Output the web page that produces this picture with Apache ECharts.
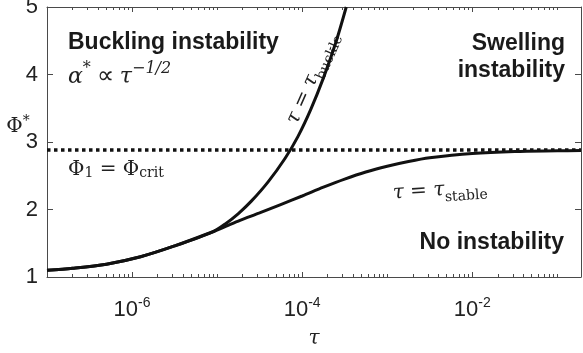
<!DOCTYPE html>
<html>
<head>
<meta charset="utf-8">
<script src="https://cdn.jsdelivr.net/npm/echarts@6/dist/echarts.min.js"></script>
<style>
  html, body { margin: 0; padding: 0; background: #fff; }
  #chart { width: 583px; height: 353px; }
</style>
</head>
<body>
<div id="chart"></div>
<script>
// tau, Phi* off the linear axis
const buckleTau = [1e-7, 2e-7, 5e-7, 1.26e-6, 3.16e-6, 8.9e-6, 1.26e-5, 1.78e-5, 2.51e-5, 3.98e-5, 6.31e-5, 8.91e-5, 1.26e-4, 1.78e-4, 2.51e-4, 3.3e-4];
const buckleVal = [1.10, 1.13, 1.19, 1.30, 1.46, 1.67, 1.79, 1.94, 2.12, 2.41, 2.76, 3.08, 3.48, 3.95, 4.49, 5.00];

const stableTau = [1e-7, 2e-7, 5e-7, 1.26e-6, 3.16e-6, 8.9e-6, 1.26e-5, 1.86e-5, 3.16e-5, 5.5e-5, 1.0e-4, 1.78e-4, 3.16e-4, 5.6e-4, 1.0e-3, 1.78e-3, 3.16e-3, 1.0e-2, 3.16e-2, 0.1, 0.19];
const stableVal = [1.10, 1.13, 1.19, 1.30, 1.46, 1.67, 1.75, 1.84, 1.95, 2.07, 2.20, 2.33, 2.45, 2.555, 2.64, 2.71, 2.765, 2.83, 2.86, 2.87, 2.875];

const critTau = [1e-7, 0.19];
const critVal = [2.88, 2.88];

const xMin = 1e-7, xMax = 0.19;
const xTicks = [1e-6, 1e-4, 1e-2];
const yTicks = [1, 2, 3, 4, 5];

const pairs = (xs, ys) => xs.map((x, i) => [x, ys[i]]);

// MATLAB-style minor ticks: 1..9 x 10^k, skipping the labelled decades
const minorTicks = [];
for (let k = -7; k <= -1; k++) {
    for (let m = 1; m <= 9; m++) {
        const v = m * Math.pow(10, k);
        if (v >= xMin && v <= xMax && xTicks.indexOf(v) < 0) minorTicks.push(v);
    }
}

const axisCol = '#4a4a4a';
const textCol = '#222';
const sans = 'Liberation Sans';
const serif = 'DejaVu Serif';

const chart = echarts.init(document.getElementById('chart'));

function xAxisBox(position, opts) {
    return Object.assign({
        type: 'log', logBase: 10, min: xMin, max: xMax, position: position,
        axisLine: { show: false },
        axisLabel: { show: false },
        splitLine: { show: false },
        axisTick: { show: false }
    }, opts);
}

function yAxisBox(position, opts) {
    return Object.assign({
        type: 'value', min: 1, max: 5, interval: 1, position: position,
        axisLine: { show: false },
        axisLabel: { show: false },
        splitLine: { show: false },
        axisTick: { show: false }
    }, opts);
}

const line = { show: true, onZero: false, lineStyle: { color: axisCol, width: 1 } };

const mathRich = {
    i: { fontFamily: serif, fontStyle: 'italic', fontSize: 20, fill: textCol, lineHeight: 30 },
    r: { fontFamily: serif, fontSize: 20, fill: textCol },
    d: { fontFamily: serif, fontSize: 14, fill: textCol, verticalAlign: 'bottom' },
    s: { fontFamily: serif, fontStyle: 'italic', fontSize: 15, fill: textCol, verticalAlign: 'top' }
};

chart.setOption({
    animation: false,
    grid: { left: 47, right: 2, top: 7, bottom: 76, containLabel: false, outerBoundsMode: 'none' },
    xAxis: [
        xAxisBox('bottom', {
            axisLine: line,
            axisTick: { show: true, inside: true, length: 5, customValues: xTicks, lineStyle: { color: axisCol } },
            axisLabel: {
                show: true, customValues: xTicks, margin: 19, color: textCol,
                formatter: v => '{b|10}{s|' + Math.round(Math.log10(v)) + '}',
                rich: {
                    b: { fontSize: 22, fontFamily: sans, color: textCol, lineHeight: 28 },
                    s: { fontSize: 14, fontFamily: sans, color: textCol, verticalAlign: 'top' }
                }
            },
            name: 'τ', nameLocation: 'middle', nameGap: 52,
            nameTextStyle: { fontFamily: serif, fontStyle: 'italic', fontSize: 20, color: textCol }
        }),
        xAxisBox('bottom', {
            axisTick: { show: true, inside: true, length: 3, customValues: minorTicks, lineStyle: { color: axisCol } }
        }),
        xAxisBox('top', {
            axisLine: line,
            axisTick: { show: true, inside: true, length: 5, customValues: xTicks, lineStyle: { color: axisCol } }
        }),
        xAxisBox('top', {
            axisTick: { show: true, inside: true, length: 3, customValues: minorTicks, lineStyle: { color: axisCol } }
        })
    ],
    yAxis: [
        yAxisBox('left', {
            axisLine: line,
            axisLabel: { show: true, customValues: yTicks, fontSize: 22, fontFamily: sans, color: textCol, margin: 9 }
        }),
        yAxisBox('left', {
            axisTick: { show: true, inside: true, length: 6, customValues: yTicks, lineStyle: { color: axisCol } }
        }),
        yAxisBox('right', {
            axisLine: line,
            axisTick: { show: true, inside: true, length: 6, customValues: yTicks, lineStyle: { color: axisCol } }
        })
    ],
    series: [
        {
            type: 'line', data: pairs(critTau, critVal), showSymbol: false, silent: true,
            lineStyle: { color: '#111', width: 3.5, type: [3.5, 3.5], cap: 'butt' }
        },
        {
            type: 'line', data: pairs(stableTau, stableVal), showSymbol: false, smooth: 0.3, silent: true,
            lineStyle: { color: '#111', width: 3 }
        },
        {
            type: 'line', data: pairs(buckleTau, buckleVal), showSymbol: false, smooth: 0.3, silent: true,
            lineStyle: { color: '#111', width: 3 }
        }
    ],
    graphic: [
        {
            type: 'text', x: 18, y: 127,
            style: {
                text: '{a|Φ}{s|*}', align: 'center', verticalAlign: 'middle',
                rich: {
                    a: { fontFamily: serif, fontSize: 20, fill: textCol, lineHeight: 26 },
                    s: { fontFamily: serif, fontSize: 14, fill: textCol, verticalAlign: 'top' }
                }
            }
        },
        {
            type: 'text', x: 68, y: 43,
            style: { text: 'Buckling instability', font: 'bold 23px "Liberation Sans"', fill: '#1a1a1a', align: 'left', verticalAlign: 'middle' }
        },
        {
            type: 'text', x: 68, y: 77,
            style: {
                text: '{i|α}{s|*}{r| ∝ }{i|τ}{s|−1/2}', align: 'left', verticalAlign: 'middle',
                rich: {
                    i: { fontFamily: serif, fontStyle: 'italic', fontSize: 22, fill: textCol, lineHeight: 32 },
                    r: { fontFamily: 'Liberation Serif', fontSize: 24, fill: textCol },
                    s: { fontFamily: serif, fontStyle: 'italic', fontSize: 16, fill: textCol, verticalAlign: 'top' }
                }
            }
        },
        {
            type: 'text', x: 565, y: 57,
            style: { text: 'Swelling\ninstability', font: 'bold 23px "Liberation Sans"', lineHeight: 27, fill: '#1a1a1a', align: 'right', verticalAlign: 'middle' }
        },
        {
            type: 'text', x: 564, y: 243,
            style: { text: 'No instability', font: 'bold 23px "Liberation Sans"', fill: '#1a1a1a', align: 'right', verticalAlign: 'middle' }
        },
        {
            type: 'text', x: 68, y: 170,
            style: { text: '{r|Φ}{d|1}{r| = Φ}{d|crit}', align: 'left', verticalAlign: 'middle', rich: mathRich }
        },
        {
            type: 'text', x: 440, y: 190, rotation: 4 * Math.PI / 180,
            style: { text: '{i|τ}{r| = }{i|τ}{d|stable}', align: 'center', verticalAlign: 'middle', rich: mathRich }
        },
        {
            type: 'text', x: 312, y: 78, rotation: 66 * Math.PI / 180,
            style: { text: '{i|τ}{r| = }{i|τ}{d|buckle}', align: 'center', verticalAlign: 'middle', rich: mathRich }
        }
    ]
});
</script>
</body>
</html>
